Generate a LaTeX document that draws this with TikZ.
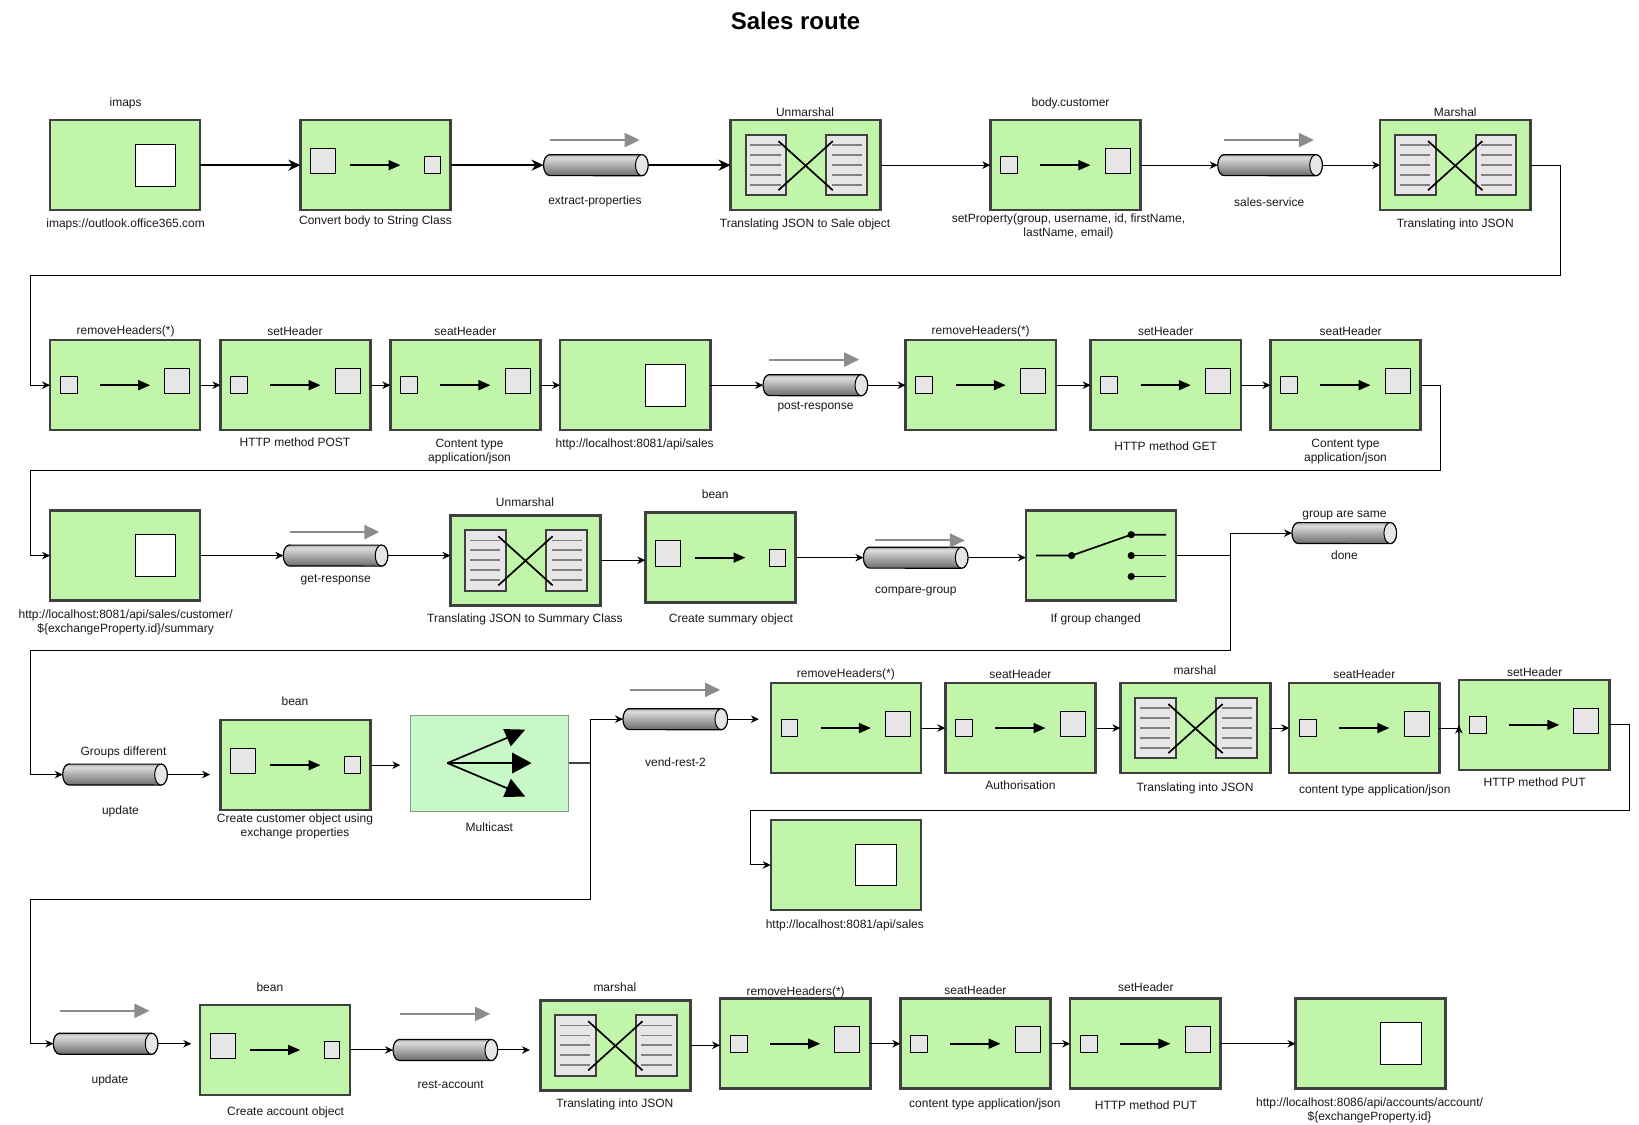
\documentclass[tikz,border=0pt]{standalone}
\usepackage{fontspec}
\setmainfont{Liberation Sans}
\usetikzlibrary{arrows.meta}
\definecolor{boxgreen}{HTML}{C1F5A9}
\definecolor{boxedge}{HTML}{404040}
\definecolor{lightgreen}{HTML}{C8F7C8}
\definecolor{sqgray}{HTML}{E6E6E6}
\pgfdeclareverticalshading{cylshade}{100bp}{color(0bp)=(black!58); color(25bp)=(black!58); color(58bp)=(black!24); color(68bp)=(black!14); color(75bp)=(black!32); color(100bp)=(black!32)}
\tikzset{
  eipbox/.style={draw=boxedge,fill=boxgreen,line width=2.5pt,minimum width=150.2pt,minimum height=90pt,inner sep=0pt,outer sep=0pt},
  castbox/.style={draw=boxedge!50!lightgreen,fill=lightgreen,line width=.5pt,minimum width=158.8pt,minimum height=96pt,inner sep=0pt,outer sep=0pt},
  chanbox/.style={minimum width=104.5pt,minimum height=21pt,inner sep=0pt,outer sep=0pt},
  lab/.style={font=\fontsize{12}{14}\selectfont,align=center,inner sep=0pt,text=black!90},
  ttl/.style={font=\fontsize{24}{28}\selectfont\bfseries,inner sep=0pt},
  flow/.style={draw=black,line width=1pt,-{Stealth[length=8pt,width=7.5pt]}},
  flowline/.style={draw=black,line width=1pt},
  heavy/.style={draw=black,line width=2pt,-{Stealth[length=12pt,width=11pt]}},
  inarrow/.style={draw=black,line width=1.7pt,-{Triangle[length=12pt,width=10pt]}},
  grayarrow/.style={draw=gray!90,line width=2pt,-{Triangle[length=15pt,width=14pt]}},
  sq/.style={draw=black,fill=sqgray,line width=1pt},
  wsq/.style={draw=black,fill=white,line width=1pt},
  docrect/.style={draw=boxedge,fill=sqgray,line width=2pt},
  docline/.style={draw=gray,line width=1.7pt},
  crossline/.style={draw=black,line width=1.7pt},
  dot/.style={fill=black},
}
\newcounter{lb}
\newcommand{\lbl}[3]{\stepcounter{lb}\node[lab] (lab\the\value{lb}) at ({#1+0.2},{#2+1}) {#3};}
% white end point
\newcommand{\ept}[3]{\node[eipbox] (#1) at (#2,#3) {};
  \begin{scope}[shift={(#2,#3)}]\draw[wsq] (9.5,-20) rectangle (48.5,20);\end{scope}}
% small -> big
\newcommand{\sbx}[3]{\node[eipbox] (#1) at (#2,#3) {};
  \begin{scope}[shift={(#2,#3)}]
  \draw[sq] (-62,-8) rectangle (-46,8);
  \draw[sq] (38,-16) rectangle (62,8);
  \path[inarrow] (-24,0) -- (24,0);
  \end{scope}}
% big -> small
\newcommand{\bsx}[3]{\node[eipbox] (#1) at (#2,#3) {};
  \begin{scope}[shift={(#2,#3)}]
  \draw[sq] (-62,-16) rectangle (-38,8);
  \draw[sq] (47,-8) rectangle (62,8);
  \path[inarrow] (-24,0) -- (24,0);
  \end{scope}}
% translator
\newcommand{\trx}[3]{\node[eipbox] (#1) at (#2,#3) {};
  \begin{scope}[shift={(#2,#3)}]
  \draw[docrect] (-57.5,-29) rectangle (-18.5,29);
  \draw[docrect] (19.5,-29) rectangle (58.5,29);
  \foreach \yy in {-19,-9.5,0,9.5,19}{
    \draw[docline] (-53,\yy) -- (-24,\yy);
    \draw[docline] (25,\yy) -- (54,\yy);
  }
  \draw[crossline] (-26,-23) -- (26,24);
  \draw[crossline] (-26,24) -- (26,-23);
  \end{scope}}
% channel
\newcommand{\chan}[3]{\node[chanbox] (#1) at (#2,#3) {};
  \begin{scope}[shift={(#2,#3)}]
  \path[draw=black,line width=1.2pt,shading=cylshade]
    (-44,-10) -- (44,-10) arc[start angle=90,end angle=-90,x radius=6.3pt,y radius=10.5pt]
    -- (-44,10) arc[start angle=270,end angle=90,x radius=6.3pt,y radius=10.5pt] -- cycle;
  \draw[draw=black,fill=sqgray,line width=1pt] (44,0) ellipse[x radius=6.3pt,y radius=10.5pt];
  \end{scope}}
\newcommand{\garrow}[2]{\begin{scope}[shift={(#1,#2)}]\path[grayarrow] (-43,0) -- (43,0);\end{scope}}
\begin{document}
\begin{tikzpicture}[x=1.0453pt,y=-1.0453pt]
\useasboundingbox (0,0) rectangle (1568,1076);
\fill[white] (0,0) rectangle (1568,1076);
\node[ttl] (title) at (761,20) {Sales route};

% ---- row 1
\ept{imaps}{119.7}{158}
\bsx{conv}{359.2}{158}
\chan{extract}{570}{158}
\garrow{569}{134}
\trx{unm1}{770.7}{158}
\sbx{cust}{1019.2}{158}
\chan{sales}{1215}{158}
\garrow{1214}{134}
\trx{mar1}{1392.2}{158}

% ---- row 2
\sbx{rem1}{119.7}{368.5}
\sbx{set1}{282.7}{368.5}
\sbx{seat1}{445.2}{368.5}
\ept{post}{607.7}{368.5}
\chan{postr}{780}{368.5}
\garrow{779}{344}
\sbx{rem2}{938.2}{368.5}
\sbx{set2}{1115.2}{368.5}
\sbx{seat2}{1287.2}{368.5}

% ---- row 3
\ept{getc}{119.7}{531.5}
\chan{getr}{321}{531.5}
\garrow{320}{509}
\trx{unm2}{502.7}{536}
\bsx{bean1}{689.2}{533.5}
\chan{comp}{876}{533.5}
\garrow{880}{517}
\node[eipbox] (sw) at (1053.2,531.5) {};
\begin{scope}[shift={(1053.2,531.5)}]
  \draw[crossline] (-62,0) -- (-28,0) -- (29,-20) -- (62.5,-20);
  \draw[crossline] (29,0) -- (62.5,0);
  \draw[crossline] (29,20) -- (62.5,20);
  \foreach \px/\py in {-28/0,29/-20,29/0,29/20}{\fill[dot] (\px,\py) circle (3.6pt);}
\end{scope}
\chan{done}{1286}{510}

% ---- row 4
\chan{upd1}{110}{741}
\bsx{bean2}{282.7}{732}
\node[castbox] (cast) at (468,730) {};
\begin{scope}[shift={(468,730)}]
  \draw[crossline] (-40,0) -- (24,-27);
  \draw[crossline] (-40,0) -- (24,0);
  \draw[crossline] (-40,0) -- (24,27);
  \fill[black] (13.4,-32.5) -- (34.4,-32) -- (20.7,-16) -- cycle;
  \fill[black] (22,-10) -- (40.5,0) -- (22,10) -- cycle;
  \fill[black] (13.4,32.5) -- (34.4,32) -- (20.7,15) -- cycle;
\end{scope}
\chan{vend}{646}{688}
\garrow{646}{660}
\sbx{rem3}{809.2}{696.5}
\sbx{seat3}{976.2}{696.5}
\trx{mar2}{1143.7}{696.5}
\sbx{seat4}{1305.2}{696.5}
\sbx{set3}{1467.7}{693.5}
\ept{post2}{809.2}{827.5}

% ---- row 5
\chan{upd2}{101}{998.5}
\garrow{100}{967}
\bsx{bean3}{263.2}{1004.5}
\chan{rest}{426}{1004.5}
\garrow{426}{970}
\trx{mar3}{588.7}{1000}
\sbx{rem4}{760.7}{998.5}
\sbx{seat5}{933.2}{998.5}
\sbx{set4}{1095.7}{998.5}
\ept{acct}{1311.2}{998.5}

% ---- route corners
\coordinate (a1) at (1493,263.5);
\coordinate (a2) at (29,263.5);
\coordinate (b1) at (1378,450);
\coordinate (b2) at (29,450);
\coordinate (c1) at (1177,531.5);
\coordinate (c2) at (1177,622);
\coordinate (c3) at (29,622);
\coordinate (d0) at (201,741);
\coordinate (d1) at (383,732);
\coordinate (d2) at (565,730);
\coordinate (d3) at (565,861);
\coordinate (d4) at (29,861);
\coordinate (e0) at (726,688);
\coordinate (e1) at (1559,775);
\coordinate (e2) at (718,775);
\coordinate (f1) at (183,998.5);
\coordinate (f2) at (507,1004.5);
\coordinate (k0) at (1395.7,696.5);
\coordinate (k1) at (1395.7,701.5);
\coordinate (k2) at (1395.7,694);

% ---- connectors
\draw[heavy] (imaps.east) -- (conv.west);
\draw[heavy] (conv.east) -- (extract.west);
\draw[heavy] (extract.east) -- (unm1.west);
\draw[flow] (unm1.east) -- (cust.west);
\draw[flow] (cust.east) -- (sales.west);
\draw[flow] (sales.east) -- (mar1.west);
\draw[flow] (mar1.east) -| (a1) -- (a2) |- (rem1.west);
\draw[flow] (rem1.east) -- (set1.west);
\draw[flow] (set1.east) -- (seat1.west);
\draw[flow] (seat1.east) -- (post.west);
\draw[flow] (post.east) -- (postr.west);
\draw[flow] (postr.east) -- (rem2.west);
\draw[flow] (rem2.east) -- (set2.west);
\draw[flow] (set2.east) -- (seat2.west);
\draw[flow] (seat2.east) -| (b1) -- (b2) |- (getc.west);
\draw[flow] (getc.east) -- (getr.west);
\draw[flow] (getr.east) -- (getr.east -| unm2.west);
\draw[flow] (unm2.east) -- (unm2.east -| bean1.west);
\draw[flow] (bean1.east) -- (comp.west);
\draw[flow] (comp.east) -- (comp.east -| sw.west);
\draw[flowline] (sw.east) -- (c1);
\draw[flow] (c1) |- (done.west);
\draw[flow] (c1) -- (c2) -- (c3) |- (upd1.west);
\draw[flow] (upd1.east) -- (d0);
\draw[flow] (bean2.east) -- (d1);
\draw[draw=boxedge,line width=2pt] (cast.east) -- (d2);
\draw[flow] (d2) |- (vend.west);
\draw[flowline] (d2) -- (d3) -- (d4);
\draw[flow] (d4) |- (upd2.west);
\draw[flow] (vend.east) -- (e0);
\draw[flow] (rem3.east) -- (seat3.west);
\draw[flow] (seat3.east) -- (mar2.west);
\draw[flow] (mar2.east) -- (seat4.west);
\draw[flowline] (seat4.east) -- (k0);
\draw[flow] (k1) -- (k2);
\draw[flow] (set3.east) -| (e1) -- (e2) |- (post2.west);
\draw[flow] (upd2.east) -- (f1);
\draw[flow] (bean3.east) -- (rest.west);
\draw[flow] (rest.east) -- (f2);
\draw[flow] (mar3.east) -- (mar3.east -| rem4.west);
\draw[flow] (rem4.east) -- (seat5.west);
\draw[flow] (seat5.east) -- (set4.west);
\draw[flow] (set4.east) -- (acct.west);

% ---- labels
\lbl{120}{98}{imaps}
\lbl{120}{214}{imaps://outlook.office365.com}
\lbl{359}{211}{Convert body to String Class}
\lbl{569}{192}{extract-properties}
\lbl{770}{106}{Unmarshal}
\lbl{770}{214}{Translating JSON to Sale object}
\lbl{1024}{98}{body.customer}
\lbl{1022}{216}{setProperty(group, username, id, firstName,\\lastName, email)}
\lbl{1214}{192}{sales-service}
\lbl{1392}{106}{Marshal}
\lbl{1392}{214}{Translating into JSON}
\lbl{120}{316}{removeHeaders(*)}
\lbl{282}{316}{setHeader}
\lbl{282}{422}{HTTP method POST}
\lbl{445}{316}{seatHeader}
\lbl{449}{431}{Content type\\application/json}
\lbl{607}{424}{http://localhost:8081/api/sales}
\lbl{780}{388}{post-response}
\lbl{938}{316}{removeHeaders(*)}
\lbl{1115}{316}{setHeader}
\lbl{1115}{426}{HTTP method GET}
\lbl{1292}{316}{seatHeader}
\lbl{1287}{431}{Content type\\application/json}
\lbl{120}{594}{http://localhost:8081/api/sales/customer/\\\$\{exchangeProperty.id\}/summary}
\lbl{321}{554}{get-response}
\lbl{502}{479}{Unmarshal}
\lbl{502}{592}{Translating JSON to Summary Class}
\lbl{684}{472}{bean}
\lbl{699}{592}{Create summary object}
\lbl{876}{565}{compare-group}
\lbl{1048}{592}{If group changed}
\lbl{1286}{492}{group are same}
\lbl{1286}{530}{done}
\lbl{118}{719}{Groups different}
\lbl{115}{775}{update}
\lbl{282}{670}{bean}
\lbl{282}{790}{Create customer object using\\exchange properties}
\lbl{468}{790}{Multicast}
\lbl{646}{728}{vend-rest-2}
\lbl{809}{644}{removeHeaders(*)}
\lbl{976}{644}{seatHeader}
\lbl{976}{750}{Authorisation}
\lbl{1143}{640}{marshal}
\lbl{1143}{753}{Translating into JSON}
\lbl{1305}{644}{seatHeader}
\lbl{1315}{755}{content type application/json}
\lbl{1468}{642}{setHeader}
\lbl{1468}{747}{HTTP method PUT}
\lbl{808}{884}{http://localhost:8081/api/sales}
\lbl{105}{1033}{update}
\lbl{258}{943}{bean}
\lbl{273}{1063}{Create account object}
\lbl{431}{1037}{rest-account}
\lbl{588}{943}{marshal}
\lbl{588}{1056}{Translating into JSON}
\lbl{761}{948}{removeHeaders(*)}
\lbl{933}{946}{seatHeader}
\lbl{942}{1056}{content type application/json}
\lbl{1096}{943}{setHeader}
\lbl{1096}{1056}{HTTP method PUT}
\lbl{1310}{1061}{http://localhost:8086/api/accounts/account/\\\$\{exchangeProperty.id\}}
\end{tikzpicture}
\end{document}
